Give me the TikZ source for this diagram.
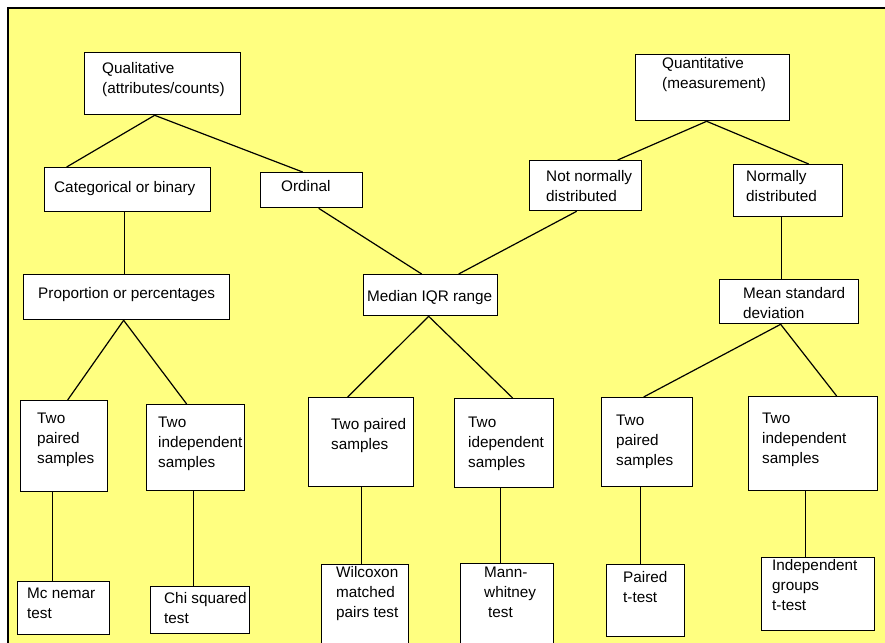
\documentclass[tikz,border=0pt]{standalone}
\usepackage{fontspec}
\setmainfont{Liberation Sans}
\definecolor{bgyellow}{RGB}{255,255,128}
\begin{document}
\begin{tikzpicture}[x=1pt,y=-1pt,
  box/.style={draw=black,line width=1.3pt,fill=white,inner sep=0pt,anchor=north west},
  txt/.style={inner sep=0pt,anchor=base west,align=left,font=\fontsize{15.3}{20}\selectfont},
  link/.style={draw=black,line width=1.2pt}]
\useasboundingbox (0,0) rectangle (885,642);
\clip (0,0) rectangle (885,642);
\fill[white] (0,0) rectangle (885,642);
\draw[fill=bgyellow,line width=1.5pt] (8,8) rectangle (900,660);
% boxes
\node[box,minimum width=156pt,minimum height=62pt] (qual) at (84,52) {};
\node[box,minimum width=166pt,minimum height=44pt] (cat) at (44,167) {};
\node[box,minimum width=102pt,minimum height=35pt] (ord) at (260,172) {};
\node[box,minimum width=112pt,minimum height=50pt] (notn) at (529,160) {};
\node[box,minimum width=154pt,minimum height=66pt] (quant) at (635,54) {};
\node[box,minimum width=109pt,minimum height=52pt] (norm) at (733,164) {};
\node[box,minimum width=206pt,minimum height=45pt] (prop) at (23,274) {};
\node[box,minimum width=134pt,minimum height=41pt] (med) at (363,274) {};
\node[box,minimum width=139pt,minimum height=44pt] (mean) at (719,279) {};
\node[box,minimum width=87pt,minimum height=91pt] (tpa) at (20,400) {};
\node[box,minimum width=98pt,minimum height=86pt] (tia) at (146,404) {};
\node[box,minimum width=92pt,minimum height=53pt] (mc) at (17,581) {};
\node[box,minimum width=99pt,minimum height=47pt] (chi) at (150,586) {};
\node[box,minimum width=105pt,minimum height=89pt] (tpb) at (308,397) {};
\node[box,minimum width=99pt,minimum height=89pt] (tib) at (454,398) {};
\node[box,minimum width=87pt,minimum height=100pt] (wil) at (321,564) {};
\node[box,minimum width=93pt,minimum height=100pt] (mann) at (460,563) {};
\node[box,minimum width=91pt,minimum height=89pt] (tpc) at (601,397) {};
\node[box,minimum width=129pt,minimum height=94pt] (tic) at (748,396) {};
\node[box,minimum width=78pt,minimum height=72pt] (pt) at (606,564) {};
\node[box,minimum width=113pt,minimum height=73pt] (ig) at (761,557) {};
% texts (anchor = baseline of the last line)
\node[txt] (qualt) at (102,93) {Qualitative\\(attributes/counts)};
\node[txt] (catt) at (54,192) {Categorical or binary};
\node[txt] (ordt) at (281,191) {Ordinal};
\node[txt] (notnt) at (546,201) {Not normally\\distributed};
\node[txt] (quantt) at (662,88) {Quantitative\\(measurement)};
\node[txt] (normt) at (746,201) {Normally\\distributed};
\node[txt] (propt) at (38,298) {Proportion or percentages};
\node[txt] (medt) at (367,301) {Median IQR range};
\node[txt] (meant) at (743,318) {Mean standard\\deviation};
\node[txt] (tpat) at (37,463) {Two\\paired\\samples};
\node[txt] (tiat) at (158,467) {Two\\independent\\samples};
\node[txt] (mct) at (27,618) {Mc nemar\\test};
\node[txt] (chit) at (164,623) {Chi squared\\test};
\node[txt] (tpbt) at (331,449) {Two paired\\samples};
\node[txt] (tibt) at (468,467) {Two\\idependent\\samples};
\node[txt] (wilt) at (336,617) {Wilcoxon\\matched\\pairs test};
\node[txt] (mannt) at (484,617) {Mann-\\whitney\\\hspace{4pt}test};
\node[txt] (tpct) at (616,465) {Two\\paired\\samples};
\node[txt] (tict) at (762,463) {Two\\independent\\samples};
\node[txt] (ptt) at (623,602) {Paired\\t-test};
\node[txt] (igt) at (772,610) {Independent\\groups\\t-test};
% connectors
\draw[link] ([xshift=-8pt]qual.south) -- ([xshift=-61pt]cat.north);
\draw[link] ([xshift=-8pt]qual.south) -- ([xshift=-9pt]ord.north);
\draw[link] ([xshift=-3pt]cat.south) -- ([xshift=-2pt]prop.north);
\draw[link] ([xshift=7pt]ord.south) -- ([xshift=-9pt]med.north);
\draw[link] ([xshift=-9pt]notn.south) -- ([xshift=28pt]med.north);
\draw[link] ([xshift=-6pt]quant.south) -- ([xshift=32pt]notn.north);
\draw[link] ([xshift=-6pt]quant.south) -- ([xshift=20.5pt]norm.north);
\draw[link] ([xshift=-6.5pt]norm.south) -- ([xshift=-7.5pt]mean.north);
\draw[link] ([xshift=-3pt]prop.south) -- ([xshift=3.5pt]tpa.north);
\draw[link] ([xshift=-3pt]prop.south) -- ([xshift=-9pt]tia.north);
\draw[link] ([xshift=-2pt]med.south) -- ([xshift=-13.5pt]tpb.north);
\draw[link] ([xshift=-2pt]med.south) -- ([xshift=8.5pt]tib.north);
\draw[link] ([xshift=-8.5pt]mean.south) -- ([xshift=-3.5pt]tpc.north);
\draw[link] ([xshift=-8.5pt]mean.south) -- ([xshift=23.5pt]tic.north);
\draw[link] ([xshift=-11.5pt]tpa.south) -- ([xshift=-11pt]mc.north);
\draw[link] ([xshift=-2pt]tia.south) -- ([xshift=-6.5pt]chi.north);
\draw[link] ([xshift=0.5pt]tpb.south) -- ([xshift=-3.5pt]wil.north);
\draw[link] ([xshift=-3.5pt]tib.south) -- ([xshift=-6.5pt]mann.north);
\draw[link] ([xshift=-6.5pt]tpc.south) -- ([xshift=-5pt]pt.north);
\draw[link] ([xshift=-7.5pt]tic.south) -- ([xshift=-12.5pt]ig.north);
\end{tikzpicture}
\end{document}
